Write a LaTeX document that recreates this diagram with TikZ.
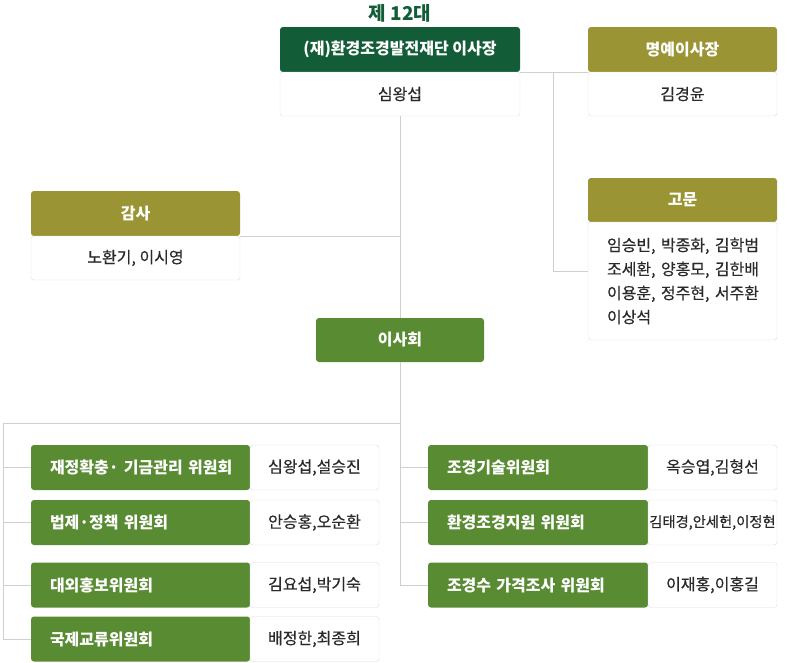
\documentclass[tikz,border=0pt]{standalone}
\usepackage{fontspec}
\newfontfamily\kr{Noto Sans CJK KR}
\newfontfamily\krname[FakeBold=0.4]{Noto Sans CJK KR}
\usetikzlibrary{positioning}
\definecolor{chairgreen}{HTML}{135C38}
\definecolor{olive}{HTML}{9B9434}
\definecolor{boardgreen}{HTML}{588B32}
\definecolor{boxline}{HTML}{DDDDDD}
\definecolor{linkgray}{HTML}{CFCFCF}
\definecolor{txt}{HTML}{2A2A2A}

\begin{document}
\begin{tikzpicture}[x=1pt, y=-1pt,
	head/.style = {rectangle, rounded corners=3pt, text=white, inner sep=0pt,
		minimum height=45pt, font=\kr\bfseries\fontsize{16}{18}\selectfont},
	namebox/.style = {rectangle, rounded corners=3pt, draw=boxline, fill=white,
		text=txt, inner sep=0pt, minimum height=45pt,
		font=\krname\fontsize{16}{18}\selectfont},
	comm/.style = {head, fill=boardgreen, minimum width=219pt, text width=181pt,
		inner xsep=19pt, align=left},
	link/.style = {draw=linkgray, line width=0.8pt}]
\useasboundingbox (0,0) rectangle (800,662);

\node [text=chairgreen, font=\kr\bfseries\fontsize{19}{20}\selectfont] (title) at (400,13) {제 12대};

\node [head, fill=chairgreen, minimum width=240pt] (chair) at (400,49.5) {(재)환경조경발전재단 이사장};
\node [namebox, minimum width=240pt, minimum height=44pt] (chairname) at (400,94) {심왕섭};

\node [head, fill=olive, minimum width=189pt] (honor) at (682.5,49.5) {명예이사장};
\node [namebox, minimum width=189pt, minimum height=44pt] (honorname) at (682.5,94) {김경윤};

\node [head, fill=olive, minimum width=209pt] (audit) at (135.5,213.5) {감사};
\node [namebox, minimum width=209pt, minimum height=44pt] (auditname) at (135.5,258) {노환기, 이시영};

\node [head, fill=olive, minimum width=189pt, minimum height=44pt] (advisor) at (682.5,200) {고문};
\node [namebox, minimum width=189pt, minimum height=118pt, text width=151pt,
	inner xsep=19pt, align=left, font=\krname\fontsize{16}{24}\selectfont] (advisorname) at (682.5,281)
	{\mbox{임승빈, 박종화, 김학범}\\\mbox{조세환, 양홍모, 김한배}\\\mbox{이용훈, 정주현, 서주환}\\이상석};

\node [head, fill=boardgreen, minimum width=168pt, minimum height=44pt] (board) at (400,340) {이사회};

\coordinate (rjoint) at (553,72);
\coordinate (split) at (400,423);
\coordinate (lbus) at (3,423);

\draw [link] (chair.south east) -- (chair.south east -| honor.west);
\draw [link] (rjoint) |- ([yshift=10pt]advisorname.west);
\draw [link] (chairname.south) -- (board.north);
\draw [link] (audit.south east) -- (audit.south east -| board.north);
\draw [link] (board.south) -- (split) -- (lbus);

\foreach \i/\y/\t/\n in {1/467.5/{재정확충· 기금관리 위원회}/{심왕섭,설승진},
		2/522.5/{법제·정책 위원회}/{안승홍,오순환},
		3/585/{대외홍보위원회}/{김요섭,박기숙},
		4/639/{국제교류위원회}/{배정한,최종희}} {
	\node [comm] (l\i) at (140.5,\y) {\mbox{\t}};
	\node [namebox, minimum width=129pt] (ln\i) at (314.5,\y) {\n};
	\draw [link] (lbus |- l\i.west) -- (l\i.west);
}
\draw [link] (lbus) -- (lbus |- l4.west);

\foreach \i/\y/\t/\n in {1/467.5/{조경기술위원회}/{옥승엽,김형선},
		2/522.5/{환경조경지원 위원회}/{\fontsize{14.3}{16}\selectfont 김태경,안세헌,이정현},
		3/585/{조경수 가격조사 위원회}/{이재홍,이홍길}} {
	\node [comm, minimum width=220pt, text width=182pt] (r\i) at (538,\y) {\mbox{\t}};
	\node [namebox, minimum width=129pt] (rn\i) at (712.5,\y) {\n};
	\draw [link] (split |- r\i.west) -- (r\i.west);
}
\draw [link] (split) -- (split |- r3.west);
\end{tikzpicture}
\end{document}
